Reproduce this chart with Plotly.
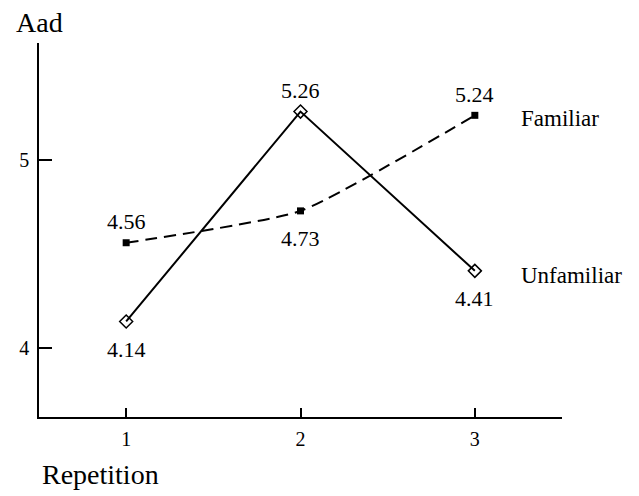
import plotly.graph_objects as go

repetition = [1, 2, 3]
familiar = [4.56, 4.73, 5.24]
unfamiliar = [4.14, 5.26, 4.41]
x_ticks = [1, 2, 3]
y_ticks = [4, 5]

font_family = "Liberation Serif, Times New Roman, serif"

# label placement: +1 above the point, -1 below
familiar_label_side = [1, -1, 1]
unfamiliar_label_side = [-1, 1, -1]

fig = go.Figure()
fig.add_trace(go.Scatter(
    x=repetition, y=unfamiliar, mode="lines+markers",
    name="Unfamiliar",
    line=dict(color="black", width=2),
    marker=dict(symbol="diamond-open", size=10, color="black", line=dict(width=1.5)),
    cliponaxis=False,
))
fig.add_trace(go.Scatter(
    x=repetition, y=familiar, mode="lines+markers",
    name="Familiar",
    line=dict(color="black", width=2, dash="12px,7px", shape="spline", smoothing=0.5),
    marker=dict(symbol="square", size=7, color="black"),
    cliponaxis=False,
))

for xs, ys, sides in [(repetition, familiar, familiar_label_side),
                      (repetition, unfamiliar, unfamiliar_label_side)]:
    for xv, yv, s in zip(xs, ys, sides):
        fig.add_annotation(x=xv, y=yv, xref="x", yref="y", text=f"{yv:.2f}",
                           showarrow=False, yanchor="middle",
                           yshift=21 if s > 0 else -28,
                           font=dict(family=font_family, size=22, color="black"))

fig.add_annotation(x=repetition[-1], y=familiar[-1], xref="x", yref="y",
                   text="Familiar", showarrow=False, xanchor="left", xshift=44, yshift=-3,
                   font=dict(family=font_family, size=23, color="black"))
fig.add_annotation(x=repetition[-1], y=unfamiliar[-1], xref="x", yref="y",
                   text="Unfamiliar", showarrow=False, xanchor="left", xshift=44, yshift=-5,
                   font=dict(family=font_family, size=23, color="black"))

fig.add_annotation(x=0, y=1, xref="paper", yref="paper", text="Aad", showarrow=False,
                   xanchor="left", yanchor="bottom", xshift=-25, yshift=3,
                   font=dict(family=font_family, size=28, color="black"))
fig.add_annotation(x=0, y=0, xref="paper", yref="paper", text="Repetition", showarrow=False,
                   xanchor="left", yanchor="top", xshift=1, yshift=-40,
                   font=dict(family=font_family, size=28, color="black"))

fig.update_layout(
    width=639, height=496,
    margin=dict(l=39, r=77, t=43, b=79),
    paper_bgcolor="white", plot_bgcolor="white",
    showlegend=False,
    font=dict(family=font_family, color="black"),
)
fig.update_xaxes(
    range=[0.5, 3.5], tickvals=x_ticks, ticktext=[str(v) for v in x_ticks],
    showgrid=False, zeroline=False, showline=True, linecolor="black", linewidth=1.5,
    ticks="inside", ticklen=9, tickwidth=1.5, tickcolor="black",
    tickfont=dict(family=font_family, size=20, color="black"),
    ticklabelstandoff=3,
)
fig.update_yaxes(
    range=[3.63, 5.626], tickvals=y_ticks, ticktext=[str(v) for v in y_ticks],
    showgrid=False, zeroline=False, showline=True, linecolor="black", linewidth=1.5,
    ticks="inside", ticklen=13, tickwidth=1.5, tickcolor="black",
    tickfont=dict(family=font_family, size=20, color="black"),
    ticklabelstandoff=4,
)

fig.write_html("out.html",
               config={"displayModeBar": False},
               post_script="document.body.style.margin='0';document.body.style.overflow='hidden';")
